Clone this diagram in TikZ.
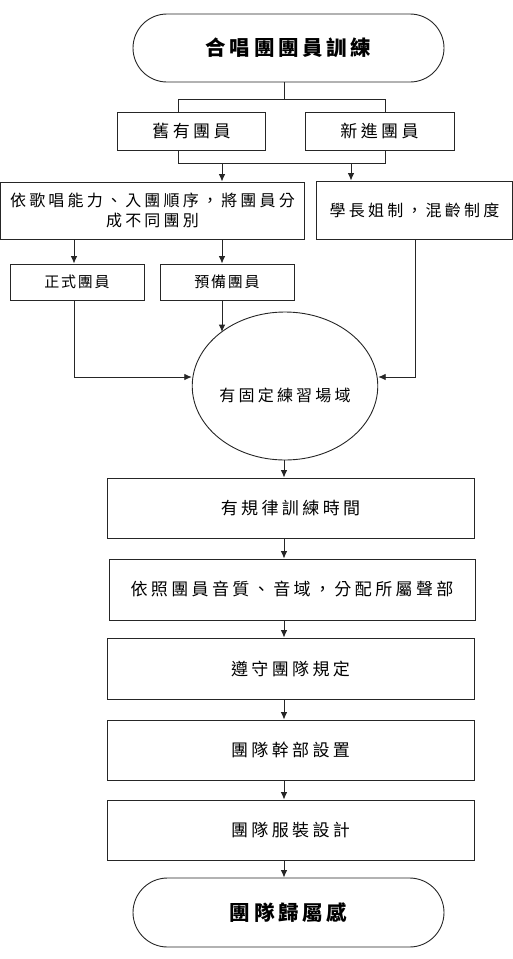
\documentclass[tikz,border=0pt]{standalone}
\usepackage{fontspec}
\usetikzlibrary{shapes.misc,shapes.geometric,arrows.meta}
\newfontfamily\cjk[LetterSpace=20]{Noto Sans CJK TC}
\newfontfamily\cjks[LetterSpace=12]{Noto Sans CJK TC}
\newfontfamily\cjkt[LetterSpace=18]{Noto Sans CJK TC}
\begin{document}
\begin{tikzpicture}[x=1pt,y=-1pt,
  line/.style={draw=black!85,line width=0.9pt},
  arr/.style={line,-{Latex[length=7.5pt,width=6.5pt]}},
  box/.style={rectangle,line,inner sep=0pt,align=center},
  term/.style={rounded rectangle,line,inner sep=0pt,minimum width=311pt},
  tbig/.style={font=\cjkt\bfseries\fontsize{20.5pt}{24pt}\selectfont},
  tmid/.style={font=\cjk\fontsize{17pt}{20pt}\selectfont},
  tsm/.style={font=\cjk\fontsize{16pt}{20pt}\selectfont},
  txs/.style={font=\cjks\fontsize{15pt}{18pt}\selectfont}
]
\useasboundingbox (0,0) rectangle (513,959);
% nodes
\node[term,tbig,minimum height=68pt] (top) at (288.5,48) {合唱團團員訓練};
\node[box,tmid,minimum width=148pt,minimum height=38pt] (old) at (191.5,131.5) {舊有團員};
\node[box,tmid,minimum width=149pt,minimum height=38pt] (new) at (379.5,131.5) {新進團員};
\node[box,tsm,minimum width=304pt,minimum height=57pt] (grp) at (152.5,210.5) {依歌唱能力、入團順序，將團員分\\成不同團別};
\node[box,tsm,minimum width=196pt,minimum height=58pt] (mentor) at (414.5,210) {學長姐制，混齡制度};
\node[box,txs,minimum width=134pt,minimum height=36pt] (formal) at (77,282) {正式團員};
\node[box,txs,minimum width=134pt,minimum height=36pt] (prep) at (227,282) {預備團員};
\node[ellipse,line,inner sep=0pt,minimum width=181pt,minimum height=148pt,tsm] (ell) at (285,386) {\raisebox{-15pt}[0pt][0pt]{有固定練習場域}};
\node[box,tmid,minimum width=367pt,minimum height=60pt] (t1) at (290.5,508) {有規律訓練時間};
\node[box,tmid,minimum width=366pt,minimum height=61pt] (t2) at (292,589.5) {依照團員音質、音域，分配所屬聲部};
\node[box,tmid,minimum width=367pt,minimum height=61pt] (t3) at (290.5,668.5) {遵守團隊規定};
\node[box,tmid,minimum width=367pt,minimum height=60pt] (t4) at (290.5,750) {團隊幹部設置};
\node[box,tmid,minimum width=367pt,minimum height=60pt] (t5) at (290.5,830) {團隊服裝設計};
\node[term,tbig,minimum height=69pt] (bot) at (288.5,912.5) {團隊歸屬感};
% helper coordinates
\coordinate (xm) at (284,0);
\coordinate (bl) at (178,99);
\coordinate (br) at (385,99);
\coordinate (cl) at (178,163);
\coordinate (cr) at (385,163);
\coordinate (ca) at (222,163);
\coordinate (cb) at (351,163);
\coordinate (xa) at (74,0);
\coordinate (xb) at (222,0);
\coordinate (xc) at (415,0);
% connectors
\draw[line] (top.south -| xm) -- (bl -| xm);
\draw[line] (old.north -| bl) -- (bl) -- (br) -- (new.north -| br);
\draw[line] (old.south -| cl) -- (cl) -- (cr) -- (new.south -| cr);
\draw[arr] (ca) -- (grp.north -| ca);
\draw[arr] (cb) -- (mentor.north -| cb);
\draw[arr] (grp.south -| xa) -- (formal.north -| xa);
\draw[arr] (grp.south -| xb) -- (prep.north -| xb);
\draw[arr] (formal.south -| xa) |- ([yshift=9pt]ell.west);
\draw[arr] (prep.south -| xb) -- (ell.140 -| xb);
\draw[arr] (mentor.south -| xc) |- ([yshift=9pt]ell.east);
\draw[arr] (ell.south -| xm) -- (t1.north -| xm);
\draw[arr] (t1.south -| xm) -- (t2.north -| xm);
\draw[arr] (t2.south -| xm) -- (t3.north -| xm);
\draw[arr] (t3.south -| xm) -- (t4.north -| xm);
\draw[arr] (t4.south -| xm) -- (t5.north -| xm);
\draw[arr] (t5.south -| xm) -- (bot.north -| xm);
\end{tikzpicture}
\end{document}
